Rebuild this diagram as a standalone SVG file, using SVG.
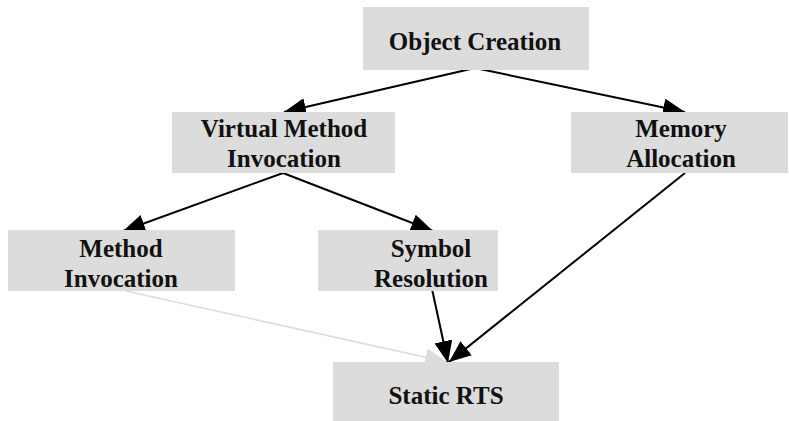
<svg xmlns="http://www.w3.org/2000/svg" width="789" height="421" viewBox="0 0 789 421">
<defs>
<style>
.box{fill:#dcdcdc;stroke:none}
.lbl{font-family:"Liberation Serif","Times New Roman",serif;font-weight:bold;font-size:25px;fill:#111;text-anchor:middle}
.edge{fill:none;stroke:#000;stroke-width:2}
.edge-light{fill:none;stroke:#dcdcdc;stroke-width:1.6}
</style>
<marker id="ah" viewBox="0 0 22 18" refX="22" refY="9" markerWidth="22" markerHeight="18" orient="auto" markerUnits="userSpaceOnUse"><path d="M0,0 L22,9 L0,18 z" fill="#000"/></marker>
<marker id="ahl" viewBox="0 0 22 18" refX="22" refY="9" markerWidth="22" markerHeight="18" orient="auto" markerUnits="userSpaceOnUse"><path d="M0,0 L22,9 L0,18 z" fill="#dcdcdc"/></marker>
</defs>
<rect width="789" height="421" fill="#fff"/>
<g id="connectors">
<line class="edge-light" x1="126" y1="291" x2="447" y2="362" marker-end="url(#ahl)"/>
<line class="edge" x1="475" y1="68" x2="284" y2="112" marker-end="url(#ah)"/>
<line class="edge" x1="475" y1="68" x2="685" y2="112" marker-end="url(#ah)"/>
<line class="edge" x1="283" y1="173" x2="123" y2="231" marker-end="url(#ah)"/>
<line class="edge" x1="283" y1="173" x2="433" y2="231" marker-end="url(#ah)"/>
<line class="edge" x1="432" y1="289" x2="448" y2="363" marker-end="url(#ah)"/>
<line class="edge" x1="685" y1="173" x2="449" y2="362" marker-end="url(#ah)"/>
</g>
<g id="object-creation"><rect class="box" x="363" y="7" width="226" height="63"/><text class="lbl" x="475" y="50">Object Creation</text></g>
<g id="virtual-method-invocation"><rect class="box" x="172" y="112" width="223" height="61"/><text class="lbl" x="284" y="137">Virtual Method</text><text class="lbl" x="284" y="167">Invocation</text></g>
<g id="memory-allocation"><rect class="box" x="571" y="112" width="217" height="61"/><text class="lbl" x="681" y="137">Memory</text><text class="lbl" x="681" y="167">Allocation</text></g>
<g id="method-invocation"><rect class="box" x="8" y="230" width="227" height="61"/><text class="lbl" x="121" y="257">Method</text><text class="lbl" x="121" y="287">Invocation</text></g>
<g id="symbol-resolution"><rect class="box" x="318" y="230" width="180" height="61"/><text class="lbl" x="431" y="257">Symbol</text><text class="lbl" x="431" y="287">Resolution</text></g>
<g id="static-rts"><rect class="box" x="333" y="362" width="226" height="59"/><text class="lbl" x="446" y="404">Static RTS</text></g>
</svg>
